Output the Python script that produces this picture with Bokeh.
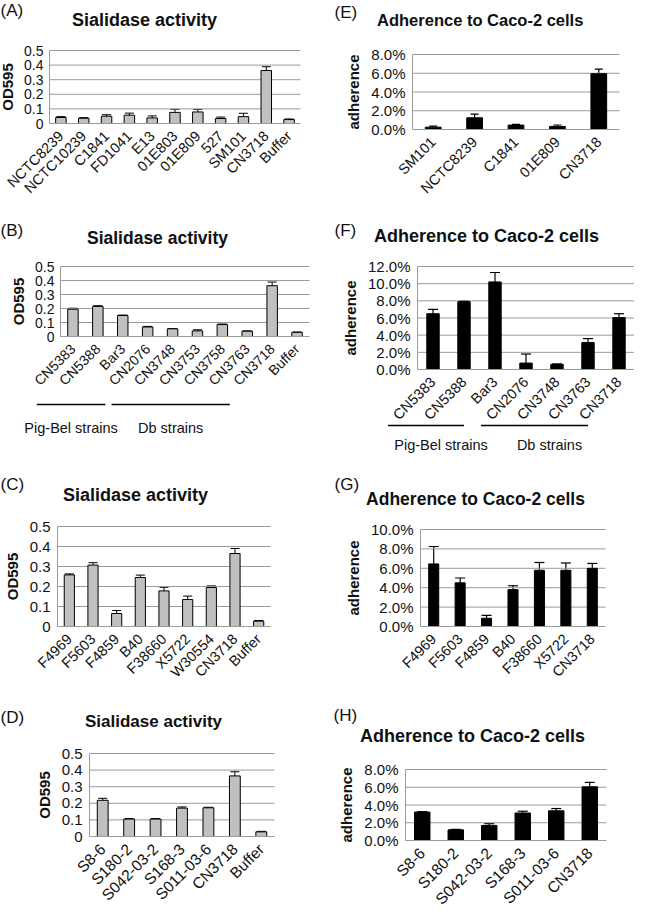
import math
from bokeh.plotting import figure
from bokeh.models import (ColumnDataSource, Range1d, FixedTicker, PrintfTickFormatter,
                          Whisker, TeeHead, Label, Arrow)
from bokeh.layouts import row, column
from bokeh.embed import file_html
from bokeh.resources import INLINE

# ---------------- data ----------------
A_strains = ["NCTC8239", "NCTC10239", "C1841", "FD1041", "E13", "01E803", "01E809",
             "527", "SM101", "CN3718", "Buffer"]
A_od = [0.041, 0.036, 0.050, 0.057, 0.038, 0.076, 0.079, 0.034, 0.047, 0.363, 0.027]
A_err = [0.006, 0.004, 0.010, 0.014, 0.014, 0.021, 0.017, 0.010, 0.023, 0.026, 0.004]

E_strains = ["SM101", "NCTC8239", "C1841", "01E809", "CN3718"]
E_adh = [0.25, 1.25, 0.47, 0.33, 5.95]
E_err = [0.10, 0.40, 0.08, 0.15, 0.50]

B_strains = ["CN5383", "CN5388", "Bar3", "CN2076", "CN3748", "CN3753", "CN3758",
             "CN3763", "CN3718", "Buffer"]
B_od = [0.195, 0.215, 0.150, 0.068, 0.055, 0.040, 0.085, 0.038, 0.363, 0.030]
B_err = [0.007, 0.005, 0.003, 0.004, 0.002, 0.008, 0.004, 0.002, 0.026, 0.002]
B_groups = [("Pig-Bel strains", "CN5383", "CN5388"), ("Db strains", "CN2076", "CN3758")]

F_strains = ["CN5383", "CN5388", "Bar3", "CN2076", "CN3748", "CN3763", "CN3718"]
F_adh = [6.5, 7.9, 10.2, 0.75, 0.6, 3.15, 6.05]
F_err = [0.5, 0.1, 1.1, 1.05, 0.05, 0.45, 0.45]
F_groups = [("Pig-Bel strains", "CN5383", "CN5388"), ("Db strains", "CN2076", "CN3763")]

C_strains = ["F4969", "F5603", "F4859", "B40", "F38660", "X5722", "W30554", "CN3718", "Buffer"]
C_od = [0.258, 0.307, 0.065, 0.245, 0.178, 0.135, 0.195, 0.365, 0.027]
C_err = [0.005, 0.012, 0.015, 0.012, 0.018, 0.017, 0.008, 0.025, 0.003]

G_strains = ["F4969", "F5603", "F4859", "B40", "F38660", "X5722", "CN3718"]
G_adh = [6.45, 4.5, 0.85, 3.8, 5.8, 5.8, 6.0]
G_err = [1.8, 0.5, 0.3, 0.4, 0.8, 0.75, 0.5]

D_strains = ["S8-6", "S180-2", "S042-03-2", "S168-3", "S011-03-6", "CN3718", "Buffer"]
D_od = [0.218, 0.105, 0.105, 0.171, 0.173, 0.365, 0.028]
D_err = [0.012, 0.003, 0.003, 0.007, 0.003, 0.025, 0.003]

H_strains = ["S8-6", "S180-2", "S042-03-2", "S168-3", "S011-03-6", "CN3718"]
H_adh = [3.2, 1.2, 1.7, 3.1, 3.35, 6.05]
H_err = [0.05, 0.05, 0.2, 0.2, 0.25, 0.5]

SIA_TITLE = "Sialidase activity"
ADH_TITLE = "Adherence to Caco-2 cells"

# ---------------- style ----------------
FONT = "Liberation Sans"
GRID = "#9a9a9a"
TXT = "#111111"


def panel(letter, title, ylabel, cats, vals, errs, kind, ymax, ystep, g, groups=None):
    W, H, L, R, T, B = g["W"], g["H"], g["L"], g["R"], g["T"], g["B"]
    n = len(cats)
    fw = W - L - R
    fh = H - T - B
    band = fw / n
    ypp = ymax / fh  # data units per pixel

    # the frame spans the whole figure; the chart area sits inside it
    x_range = Range1d(-0.5 - L / band, n - 0.5 + R / band)
    y_range = Range1d(-B * ypp, ymax + T * ypp)

    p = figure(width=W, height=H, x_range=x_range, y_range=y_range,
               output_backend="svg", toolbar_location=None,
               min_border_left=0, min_border_right=0, min_border_top=0,
               min_border_bottom=0)
    p.title.visible = False
    p.outline_line_color = None
    p.background_fill_color = "white"
    p.border_fill_color = "white"
    p.xgrid.visible = False
    p.ygrid.visible = False

    xs = list(range(n))
    ticks = [round(i * ystep, 6) for i in range(int(round(ymax / ystep)) + 1)]

    # horizontal gridlines over the chart area
    gl = [t for t in ticks if t > 0]
    p.segment(x0=[-0.5] * len(gl), x1=[n - 0.5] * len(gl), y0=gl, y1=gl,
              line_color=GRID, line_width=1)

    if kind == "sia":
        lower = [v - e for v, e in zip(vals, errs)]
    else:
        lower = list(vals)
    upper = [v + e for v, e in zip(vals, errs)]
    src = ColumnDataSource(dict(x=xs, top=vals, lower=lower, upper=upper))

    if kind == "sia":
        p.vbar(x="x", top="top", width=g["bw"], source=src, fill_color="#c0c0c0",
               line_color="black", line_width=1)
        w = Whisker(source=src, base="x", lower="lower", upper="upper",
                    line_color="black", line_width=1,
                    upper_head=TeeHead(size=g["cap"], line_color="black", line_width=1),
                    lower_head=TeeHead(size=g["cap"], line_color="black", line_width=1))
    else:
        p.vbar(x="x", top="top", width=g["bw"], source=src, fill_color="black",
               line_color="black", line_width=1)
        w = Whisker(source=src, base="x", lower="lower", upper="upper",
                    line_color="black", line_width=1.2,
                    upper_head=TeeHead(size=g["cap"], line_color="black", line_width=1.2),
                    lower_head=None)
    p.add_layout(w)

    # axes pinned to the chart area
    p.yaxis.fixed_location = -0.5
    p.yaxis.bounds = (0, ymax)
    p.yaxis.ticker = FixedTicker(ticks=ticks)
    if kind == "sia":
        p.yaxis.major_label_overrides = {0: "0"}
    else:
        p.yaxis.formatter = PrintfTickFormatter(format="%.1f%%")

    p.xaxis.fixed_location = 0
    p.xaxis.bounds = (-0.5, n - 0.5)
    p.xaxis.ticker = FixedTicker(ticks=xs)
    p.xaxis.major_label_overrides = {i: c for i, c in zip(xs, cats)}

    for ax in (p.xaxis, p.yaxis):
        ax.axis_line_color = GRID
        ax.axis_line_width = 1
        ax.major_tick_line_color = None
        ax.minor_tick_line_color = None
        ax.major_tick_in = 0
        ax.major_tick_out = 0
        ax.major_label_text_font = FONT
        ax.major_label_text_color = TXT
    p.yaxis.major_label_text_font_size = g["yfs"]
    p.yaxis.major_label_standoff = g.get("ystand", 7)
    p.yaxis.axis_label = ylabel
    p.yaxis.axis_label_text_font = FONT
    p.yaxis.axis_label_text_font_style = "bold"
    p.yaxis.axis_label_text_font_size = "15px"
    p.yaxis.axis_label_text_color = TXT
    p.yaxis.axis_label_standoff = g.get("lstand", 6)
    p.xaxis.major_label_orientation = math.pi / 4
    p.xaxis.major_label_text_font_size = g["xfs"]
    p.xaxis.major_label_standoff = g.get("xstand", 10)

    lx, ly = g["letter"]
    p.add_layout(Label(x=lx, y=H - ly, x_units="screen", y_units="screen",
                       text=letter, text_font=FONT, text_font_size="17px",
                       text_color=TXT, text_align="left", text_baseline="top"))
    tx, ty = g["title"]
    p.add_layout(Label(x=tx, y=H - ty, x_units="screen", y_units="screen",
                       text=title, text_font=FONT, text_font_size=g["tfs"],
                       text_font_style="bold", text_color=TXT,
                       text_align="center", text_baseline="middle"))

    if groups:
        lo, hi = g["gspan"]
        for name, first, last in groups:
            i0 = L + (cats.index(first) + 0.5 + lo) * band
            i1 = L + (cats.index(last) + 0.5 + hi) * band
            p.add_layout(Arrow(x_start=i0, y_start=H - g["gline"],
                               x_end=i1, y_end=H - g["gline"],
                               start_units="screen", end_units="screen",
                               start=None, end=None, line_color="black", line_width=1.6))
            p.add_layout(Label(x=(i0 + i1) / 2 + g["goff"], y=H - g["glabel"],
                               x_units="screen", y_units="screen", text=name,
                               text_font=FONT, text_font_size="14.5px", text_color=TXT,
                               text_align="center", text_baseline="middle"))
    return p


geoA = dict(W=317, H=204, L=49, R=17, T=50, B=81, letter=(0, 0), title=(144, 19),
            tfs="18px", yfs="14px", xfs="14.5px", bw=0.46, cap=9, lstand=5, ystand=6)
geoE = dict(W=317, H=204, L=95, R=15, T=54, B=75, letter=(17, 2), title=(165, 19),
            tfs="16.5px", yfs="15px", xfs="14.5px", bw=0.38, cap=8)
geoB = dict(W=317, H=255, L=60, R=8, T=62, B=123, letter=(0, 16), title=(157, 33),
            tfs="17.5px", yfs="14px", xfs="14px", bw=0.42, cap=9, lstand=5, ystand=6,
            gspan=(-1.45, 0.3), gline=200, glabel=223, goff=0)
geoF = dict(W=317, H=255, L=100, R=0, T=62, B=90, letter=(17, 16), title=(169, 31),
            tfs="18px", yfs="15px", xfs="14.5px", bw=0.4, cap=10,
            gspan=(-1.45, 0.0), gline=221, glabel=240, goff=15)
geoC = dict(W=317, H=230, L=57, R=47, T=67, B=63, letter=(0, 15), title=(135, 35),
            tfs="18px", yfs="15px", xfs="14.5px", bw=0.43, cap=9)
geoG = dict(W=317, H=230, L=103, R=29, T=70, B=63, letter=(17, 15), title=(158, 39),
            tfs="17.5px", yfs="15px", xfs="14.5px", bw=0.38, cap=10)
geoD = dict(W=317, H=218, L=89, R=43, T=64, B=71, letter=(0, 18), title=(153, 32),
            tfs="17px", yfs="15px", xfs="15.5px", bw=0.41, cap=9)
geoH = dict(W=317, H=218, L=88, R=28, T=80, B=67, letter=(16, 16), title=(155, 46),
            tfs="18px", yfs="15px", xfs="15.5px", bw=0.46, cap=10)

pA = panel("(A)", SIA_TITLE, "OD595", A_strains, A_od, A_err, "sia", 0.5, 0.1, geoA)
pE = panel("(E)", "Adherence  to Caco-2 cells", "adherence", E_strains, E_adh, E_err,
           "adh", 8.0, 2.0, geoE)
pB = panel("(B)", SIA_TITLE, "OD595", B_strains, B_od, B_err, "sia", 0.5, 0.1, geoB,
           groups=B_groups)
pF = panel("(F)", ADH_TITLE, "adherence", F_strains, F_adh, F_err, "adh", 12.0, 2.0, geoF,
           groups=F_groups)
pC = panel("(C)", SIA_TITLE, "OD595", C_strains, C_od, C_err, "sia", 0.5, 0.1, geoC)
pG = panel("(G)", ADH_TITLE, "adherence", G_strains, G_adh, G_err, "adh", 10.0, 2.0, geoG)
pD = panel("(D)", SIA_TITLE, "OD595", D_strains, D_od, D_err, "sia", 0.5, 0.1, geoD)
pH = panel("(H)", ADH_TITLE, "adherence", H_strains, H_adh, H_err, "adh", 8.0, 2.0, geoH)

layout = column(row(pA, pE), row(pB, pF), row(pC, pG), row(pD, pH))

open("out.html", "w").write(file_html(layout, INLINE))
